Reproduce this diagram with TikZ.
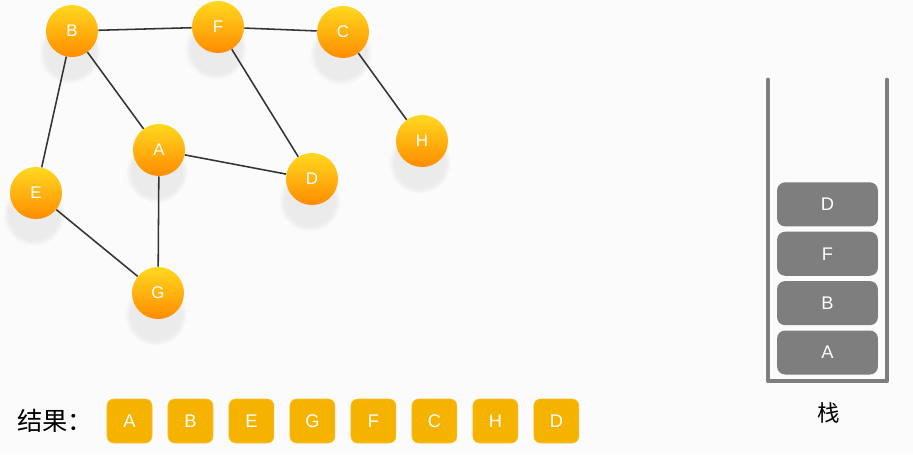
\documentclass[tikz,border=0pt]{standalone}
\usepackage{fontspec}
\setmainfont{Liberation Sans}
\newfontfamily\cjk{Noto Sans CJK SC}
\usepackage{tikz}
\usetikzlibrary{shadows,positioning}

\definecolor{ballTop}{HTML}{FFD81F}
\definecolor{ballBot}{HTML}{FF8C00}
\definecolor{resBox}{HTML}{F5B300}
\definecolor{stackGray}{HTML}{7E7E7E}
\definecolor{edgeGray}{HTML}{333333}
\definecolor{bgGray}{HTML}{FBFBFB}

\tikzset{
  vertex/.style={circle, minimum size=1.3cm, inner sep=0pt, top color=ballTop, bottom color=ballBot,
    text=white, font=\fontsize{12}{14}\selectfont,
    circular drop shadow={shadow xshift=-0.05cm, shadow yshift=-0.45cm, shadow scale=1.2, opacity=0.13,
      path fading={circle with fuzzy edge 20 percent}}},
  edge/.style={draw=edgeGray, line width=1.1pt},
  resbox/.style={rectangle, rounded corners=0.17cm, fill=resBox, draw=resBox!80!white, line width=0.4pt,
    minimum width=1.125cm, minimum height=1.1cm, inner sep=0pt, text=white, font=\fontsize{13}{15}\selectfont},
  stackbox/.style={rectangle, rounded corners=0.2cm, fill=stackGray, minimum width=2.52cm, minimum height=1.1cm,
    inner sep=0pt, text=white, font=\fontsize{13}{15}\selectfont}
}

\begin{document}
\begin{tikzpicture}[x=0.025cm, y=-0.025cm]
    \fill[bgGray] (0,0) rectangle (913,454);
    \useasboundingbox (0,0) rectangle (913,454);

    % graph
    \node[vertex] (B) at (72,31) {B};
    \node[vertex] (F) at (218,27) {F};
    \node[vertex] (C) at (343,32) {C};
    \node[vertex] (H) at (422,141) {H};
    \node[vertex] (A) at (159,150) {A};
    \node[vertex] (D) at (312,179) {D};
    \node[vertex] (E) at (36,193) {E};
    \node[vertex] (G) at (158,293) {G};

    \draw[edge] (B) -- (F);
    \draw[edge] (F) -- (C);
    \draw[edge] (C) -- (H);
    \draw[edge] (B) -- (A);
    \draw[edge] (B) -- (E);
    \draw[edge] (F) -- (D);
    \draw[edge] (A) -- (D);
    \draw[edge] (A) -- (G);
    \draw[edge] (E) -- (G);

    % result
    \node[font=\cjk\fontsize{18}{20}\selectfont] (res) at (55,421) {结果：};
    \node[resbox] (r1) at (129.5,421) {A};
    \node[resbox, right=0.385cm of r1] (r2) {B};
    \node[resbox, right=0.385cm of r2] (r3) {E};
    \node[resbox, right=0.385cm of r3] (r4) {G};
    \node[resbox, right=0.385cm of r4] (r5) {F};
    \node[resbox, right=0.385cm of r5] (r6) {C};
    \node[resbox, right=0.385cm of r6] (r7) {H};
    \node[resbox, right=0.385cm of r7] (r8) {D};

    % stack
    \draw[stackGray, line width=0.12cm, line cap=round, line join=round] (768,80) -- (768,381) -- (887,381) -- (887,80);
    \node[stackbox] (sA) at (827.5,352.5) {A};
    \node[stackbox, above=0.12cm of sA] (sB) {B};
    \node[stackbox, above=0.12cm of sB] (sF) {F};
    \node[stackbox, above=0.12cm of sF] (sD) {D};
    \node[font=\cjk\fontsize{16}{18}\selectfont] (stk) at (829,413) {栈};
\end{tikzpicture}
\end{document}
